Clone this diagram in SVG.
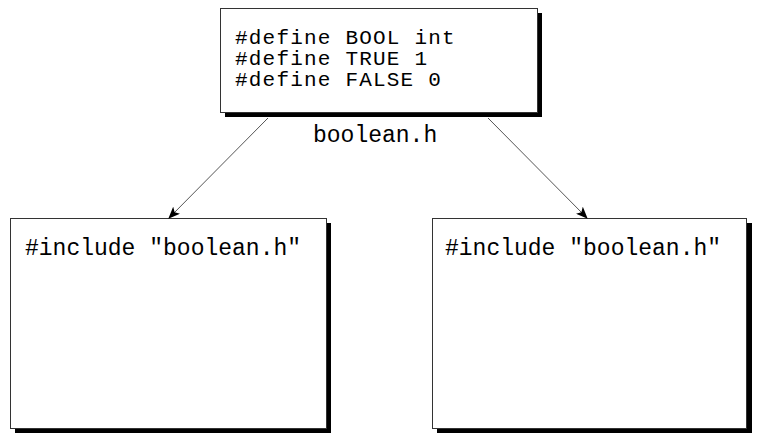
<svg xmlns="http://www.w3.org/2000/svg" width="760" height="437" viewBox="0 0 760 437">
<style>
.box{fill:#fff;stroke:#333;stroke-width:1}
.shadow{fill:#000}
.code{font-family:"Liberation Mono","Courier New",monospace;font-size:23px;fill:#000}
.def{font-size:21px;letter-spacing:1.2px}
.conn{stroke:#555;stroke-width:1;fill:none}
</style>
<defs>
<marker id="arr" markerWidth="12" markerHeight="10" refX="11" refY="5" orient="auto" markerUnits="userSpaceOnUse">
<path d="M0,0 L12,5 L0,10 L3,5 Z" fill="#000"/>
</marker>
</defs>
<rect width="760" height="437" fill="#fff"/>
<g id="header">
<rect class="shadow" x="225" y="13" width="317" height="104"/>
<rect class="box" x="220.5" y="8.5" width="317" height="104"/>
<text class="code def" x="235" y="44">#define BOOL int</text>
<text class="code def" x="235" y="65">#define TRUE 1</text>
<text class="code def" x="235" y="86">#define FALSE 0</text>
</g>
<g id="label">
<text class="code" x="313" y="142">boolean.h</text>
</g>
<g id="left">
<rect class="shadow" x="15" y="223" width="316" height="210"/>
<rect class="box" x="10.5" y="218.5" width="316" height="210"/>
<text class="code" x="25" y="255">#include "boolean.h"</text>
</g>
<g id="right">
<rect class="shadow" x="437" y="223" width="315" height="210"/>
<rect class="box" x="432.5" y="218.5" width="314" height="210"/>
<text class="code" x="445" y="255">#include "boolean.h"</text>
</g>
<g id="connectors">
<line class="conn" x1="268" y1="118" x2="169" y2="218" marker-end="url(#arr)"/>
<line class="conn" x1="488" y1="118" x2="587" y2="218" marker-end="url(#arr)"/>
</g>
</svg>
